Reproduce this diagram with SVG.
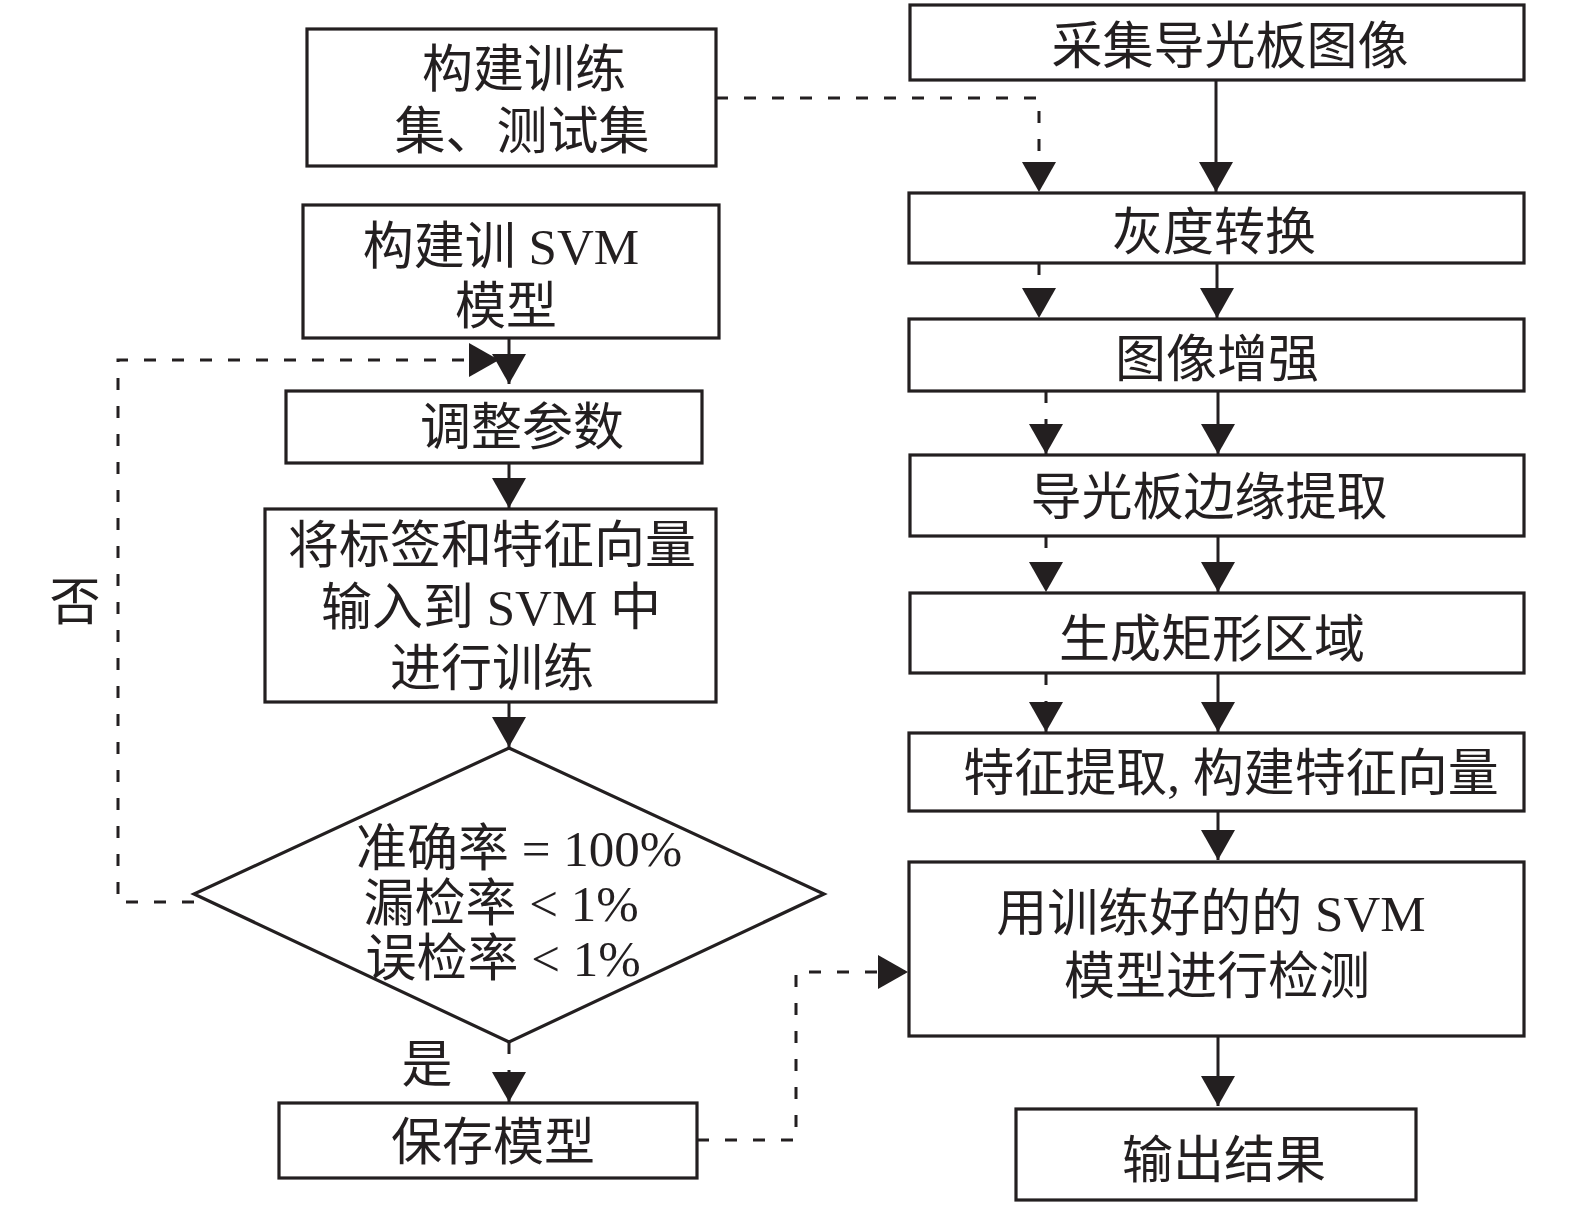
<svg xmlns="http://www.w3.org/2000/svg" width="1575" height="1207" viewBox="0 0 1575 1207">
<style>
.box{fill:#fff;stroke:#231f20;stroke-width:3.2}
.t{font-family:"Liberation Serif","Noto Sans CJK SC",serif;font-size:51px;fill:#231f20;text-anchor:middle}
.c{fill:none;stroke:#231f20;stroke-width:3}
.d{stroke-dasharray:12 16}
</style>
<defs>
<marker id="ah" viewBox="0 0 30 34" refX="30" refY="17" markerWidth="30" markerHeight="34" markerUnits="userSpaceOnUse" orient="auto">
<path d="M0,0 L30,17 L0,34 z" fill="#231f20"/>
</marker>
</defs>
<rect width="1575" height="1207" fill="#fff"/>
<g id="connectors">
<path class="c d" d="M716,98 H1039 V192" marker-end="url(#ah)"/>
<path class="c" d="M1216,80 V192" marker-end="url(#ah)"/>
<path class="c d" d="M1039,263 V318" marker-end="url(#ah)"/>
<path class="c" d="M1217,263 V318" marker-end="url(#ah)"/>
<path class="c d" d="M1046,391 V454" marker-end="url(#ah)"/>
<path class="c" d="M1218,391 V454" marker-end="url(#ah)"/>
<path class="c d" d="M1046,536 V592" marker-end="url(#ah)"/>
<path class="c" d="M1218,536 V592" marker-end="url(#ah)"/>
<path class="c d" d="M1046,673 V732" marker-end="url(#ah)"/>
<path class="c" d="M1218,673 V732" marker-end="url(#ah)"/>
<path class="c" d="M1218,811 V860" marker-end="url(#ah)"/>
<path class="c" d="M1218,1036 V1106" marker-end="url(#ah)"/>
<path class="c" d="M509,338 V384" marker-end="url(#ah)"/>
<path class="c d" d="M194,902 H118 V360 H499" marker-end="url(#ah)"/>
<path class="c" d="M509,463 V508" marker-end="url(#ah)"/>
<path class="c" d="M509,702 V747" marker-end="url(#ah)"/>
<path class="c d" d="M509,1042 V1102" marker-end="url(#ah)"/>
<path class="c d" d="M697,1140 H796 V972 H908" marker-end="url(#ah)"/>
</g>
<g id="n1"><rect class="box" x="910" y="5" width="614" height="75"/><text class="t" x="1230" y="64">采集导光板图像</text></g>
<g id="n2"><rect class="box" x="909" y="193" width="615" height="70"/><text class="t" x="1214" y="250">灰度转换</text></g>
<g id="n3"><rect class="box" x="909" y="319" width="615" height="72"/><text class="t" x="1217" y="377">图像增强</text></g>
<g id="n4"><rect class="box" x="910" y="455" width="614" height="81"/><text class="t" x="1209" y="515">导光板边缘提取</text></g>
<g id="n5"><rect class="box" x="910" y="593" width="614" height="80"/><text class="t" x="1212" y="657">生成矩形区域</text></g>
<g id="n6"><rect class="box" x="909" y="733" width="615" height="78"/><text class="t" x="1231" y="791">特征提取, 构建特征向量</text></g>
<g id="n7"><rect class="box" x="909" y="862" width="615" height="174"/><text class="t" x="1211" y="931">用训练好的的 SVM</text><text class="t" x="1217" y="994">模型进行检测</text></g>
<g id="n8"><rect class="box" x="1016" y="1109" width="400" height="91"/><text class="t" x="1224" y="1178">输出结果</text></g>
<g id="a1"><rect class="box" x="307" y="29" width="409" height="137"/><text class="t" x="524" y="87">构建训练</text><text class="t" x="522" y="149">集、测试集</text></g>
<g id="a2"><rect class="box" x="303" y="205" width="416" height="133"/><text class="t" x="501" y="264">构建训 SVM</text><text class="t" x="506" y="324">模型</text></g>
<g id="a3"><rect class="box" x="286" y="391" width="416" height="72"/><text class="t" x="522" y="445">调整参数</text></g>
<g id="a4"><rect class="box" x="265" y="509" width="451" height="193"/><text class="t" x="492" y="563">将标签和特征向量</text><text class="t" x="491" y="625">输入到 SVM 中</text><text class="t" x="492" y="686">进行训练</text></g>
<g id="a5"><polygon class="box" points="509,748 824,894 509,1042 194,894"/><text class="t" x="519" y="866">准确率 = 100%</text><text class="t" x="501" y="921">漏检率 &lt; 1%</text><text class="t" x="503" y="976">误检率 &lt; 1%</text></g>
<g id="a6"><rect class="box" x="279" y="1103" width="418" height="75"/><text class="t" x="493" y="1160">保存模型</text></g>
<text class="t" x="427" y="1082">是</text>
<text class="t" x="75" y="620">否</text>
</svg>
